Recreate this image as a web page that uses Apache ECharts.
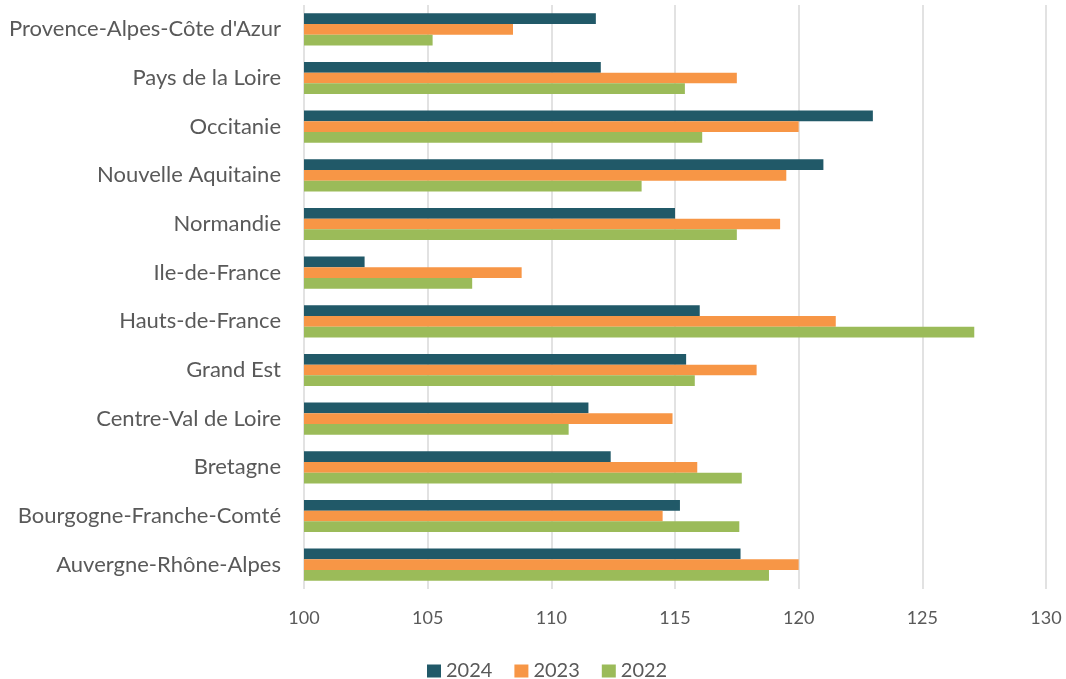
<!DOCTYPE html>
<html>
<head>
<meta charset="utf-8">
<script src="https://cdn.jsdelivr.net/npm/echarts@6/dist/echarts.min.js"></script>
<style>
  html, body { margin: 0; padding: 0; background: #fff; }
  #chart { width: 1066px; height: 679px; }
</style>
</head>
<body>
<div id="chart"></div>
<script>
// regions, top to bottom as shown
var regions = [
  "Provence-Alpes-Côte d'Azur",
  "Pays de la Loire",
  "Occitanie",
  "Nouvelle Aquitaine",
  "Normandie",
  "Ile-de-France",
  "Hauts-de-France",
  "Grand Est",
  "Centre-Val de Loire",
  "Bretagne",
  "Bourgogne-Franche-Comté",
  "Auvergne-Rhône-Alpes"
];
var values2024 = [111.8, 112.0, 123.0, 121.0, 115.0, 102.45, 116.0, 115.45, 111.5, 112.4, 115.2, 117.65];
var values2023 = [108.45, 117.5, 120.0, 119.5, 119.25, 108.8, 121.5, 118.3, 114.9, 115.9, 114.5, 120.0];
var values2022 = [105.2, 115.4, 116.1, 113.65, 117.5, 106.8, 127.1, 115.8, 110.7, 117.7, 117.6, 118.8];
var xTicks = [100, 105, 110, 115, 120, 125, 130];

var textColor = "#595959";
var font = "Lato, 'Open Sans', sans-serif";

var myChart = echarts.init(document.getElementById("chart"));
var option = {
  animation: false,
  textStyle: { fontFamily: font },
  grid: { left: 304, right: 20, top: 5, bottom: 90, containLabel: false },
  legend: {
    top: 656,
    left: 422,
    itemWidth: 14,
    itemHeight: 13,
    itemGap: 22,
    icon: "rect",
    textStyle: { color: textColor, fontSize: 20, fontFamily: font },
    data: ["2024", "2023", "2022"]
  },
  xAxis: {
    type: "value",
    min: xTicks[0],
    max: xTicks[xTicks.length - 1],
    interval: 5,
    axisLine: { show: false },
    axisTick: { show: false },
    axisLabel: { color: textColor, fontSize: 18, margin: 20, fontFamily: font },
    splitLine: { show: true, lineStyle: { color: "#d9d9d9", width: 1.5 } }
  },
  yAxis: {
    type: "category",
    inverse: true,
    data: regions,
    axisLine: { show: false },
    axisTick: { show: false },
    axisLabel: { color: textColor, fontSize: 22, margin: 23, fontFamily: font }
  },
  series: [
    {
      name: "2024",
      type: "bar",
      data: values2024,
      barGap: "0%",
      barCategoryGap: "34%",
      itemStyle: { color: "#215968" }
    },
    {
      name: "2023",
      type: "bar",
      data: values2023,
      barGap: "0%",
      barCategoryGap: "34%",
      itemStyle: { color: "#F79646" }
    },
    {
      name: "2022",
      type: "bar",
      data: values2022,
      barGap: "0%",
      barCategoryGap: "34%",
      itemStyle: { color: "#9BBB59" }
    }
  ]
};
myChart.setOption(option);
</script>
</body>
</html>
